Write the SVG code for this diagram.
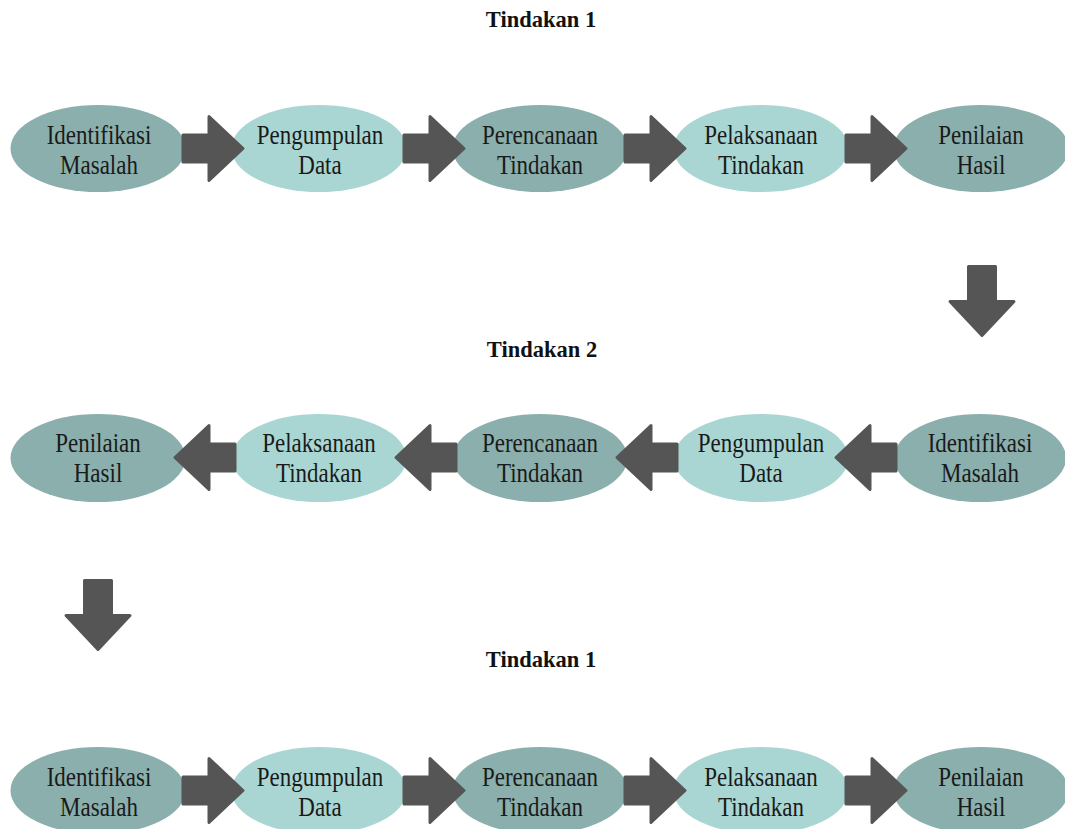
<svg xmlns="http://www.w3.org/2000/svg" width="1065" height="829" viewBox="0 0 1065 829">
<style>
.dk{fill:#8aafac}
.lt{fill:#a9d6d3}
.t{font-family:"Liberation Serif","Times New Roman",serif;font-size:23px;fill:#1a1a1a;text-anchor:middle}
.h{font-family:"Liberation Serif","Times New Roman",serif;font-size:22.5px;font-weight:bold;fill:#111;text-anchor:middle}
.ar{fill:#555555;stroke:#555555;stroke-width:3;stroke-linejoin:round}
</style>
<rect width="1065" height="829" fill="#ffffff"/>
<text class="h" x="541" y="27">Tindakan 1</text>
<text class="h" x="542" y="357">Tindakan 2</text>
<text class="h" x="541" y="667">Tindakan 1</text>

<!-- Row 1 -->
<g id="r1n1"><ellipse class="dk" cx="98" cy="148.5" rx="87.5" ry="43.5"/><text class="t" transform="translate(99,144) scale(1,1.18)">Identifikasi</text><text class="t" transform="translate(99,174) scale(1,1.18)">Masalah</text></g>
<g id="r1n2"><ellipse class="lt" cx="319" cy="148.5" rx="87.5" ry="43.5"/><text class="t" transform="translate(320,144) scale(1,1.18)">Pengumpulan</text><text class="t" transform="translate(320,174) scale(1,1.18)">Data</text></g>
<g id="r1n3"><ellipse class="dk" cx="540" cy="148.5" rx="87.5" ry="43.5"/><text class="t" transform="translate(540,144) scale(1,1.18)">Perencanaan</text><text class="t" transform="translate(540,174) scale(1,1.18)">Tindakan</text></g>
<g id="r1n4"><ellipse class="lt" cx="761" cy="148.5" rx="87.5" ry="43.5"/><text class="t" transform="translate(761,144) scale(1,1.18)">Pelaksanaan</text><text class="t" transform="translate(761,174) scale(1,1.18)">Tindakan</text></g>
<g id="r1n5"><ellipse class="dk" cx="981" cy="148.5" rx="87.5" ry="43.5"/><text class="t" transform="translate(981,144) scale(1,1.18)">Penilaian</text><text class="t" transform="translate(981,174) scale(1,1.18)">Hasil</text></g>

<!-- Row 2 -->
<g id="r2n1"><ellipse class="dk" cx="98" cy="458" rx="87.5" ry="44"/><text class="t" transform="translate(98,452) scale(1,1.18)">Penilaian</text><text class="t" transform="translate(98,482) scale(1,1.18)">Hasil</text></g>
<g id="r2n2"><ellipse class="lt" cx="319" cy="458" rx="87.5" ry="44"/><text class="t" transform="translate(319,452) scale(1,1.18)">Pelaksanaan</text><text class="t" transform="translate(319,482) scale(1,1.18)">Tindakan</text></g>
<g id="r2n3"><ellipse class="dk" cx="540" cy="458" rx="87.5" ry="44"/><text class="t" transform="translate(540,452) scale(1,1.18)">Perencanaan</text><text class="t" transform="translate(540,482) scale(1,1.18)">Tindakan</text></g>
<g id="r2n4"><ellipse class="lt" cx="761" cy="458" rx="87.5" ry="44"/><text class="t" transform="translate(761,452) scale(1,1.18)">Pengumpulan</text><text class="t" transform="translate(761,482) scale(1,1.18)">Data</text></g>
<g id="r2n5"><ellipse class="dk" cx="980" cy="458" rx="86" ry="44"/><text class="t" transform="translate(980,452) scale(1,1.18)">Identifikasi</text><text class="t" transform="translate(980,482) scale(1,1.18)">Masalah</text></g>

<!-- Row 3 -->
<g id="r3n1"><ellipse class="dk" cx="98" cy="790.5" rx="87.5" ry="43.5"/><text class="t" transform="translate(99,786) scale(1,1.18)">Identifikasi</text><text class="t" transform="translate(99,816) scale(1,1.18)">Masalah</text></g>
<g id="r3n2"><ellipse class="lt" cx="319" cy="790.5" rx="87.5" ry="43.5"/><text class="t" transform="translate(320,786) scale(1,1.18)">Pengumpulan</text><text class="t" transform="translate(320,816) scale(1,1.18)">Data</text></g>
<g id="r3n3"><ellipse class="dk" cx="540" cy="790.5" rx="87.5" ry="43.5"/><text class="t" transform="translate(540,786) scale(1,1.18)">Perencanaan</text><text class="t" transform="translate(540,816) scale(1,1.18)">Tindakan</text></g>
<g id="r3n4"><ellipse class="lt" cx="761" cy="790.5" rx="87.5" ry="43.5"/><text class="t" transform="translate(761,786) scale(1,1.18)">Pelaksanaan</text><text class="t" transform="translate(761,816) scale(1,1.18)">Tindakan</text></g>
<g id="r3n5"><ellipse class="dk" cx="981" cy="790.5" rx="87.5" ry="43.5"/><text class="t" transform="translate(981,786) scale(1,1.18)">Penilaian</text><text class="t" transform="translate(981,816) scale(1,1.18)">Hasil</text></g>

<defs>
<path id="ra" d="M0,-13.5 L26,-13.5 L26,-32 L60,0 L26,32 L26,13.5 L0,13.5 Z"/>
<path id="la" d="M0,-13.5 L-26,-13.5 L-26,-32 L-60,0 L-26,32 L-26,13.5 L0,13.5 Z"/>
<path id="da" d="M-13.5,0 L-13.5,35 L-32,35 L0,69 L32,35 L13.5,35 L13.5,0 Z"/>
</defs>
<g id="connectors">
<use href="#ra" class="ar" x="183" y="148.5"/>
<use href="#ra" class="ar" x="404" y="148.5"/>
<use href="#ra" class="ar" x="625" y="148.5"/>
<use href="#ra" class="ar" x="846" y="148.5"/>
<use href="#da" class="ar" x="982" y="266.5"/>
<use href="#la" class="ar" x="896" y="457.5"/>
<use href="#la" class="ar" x="677" y="457.5"/>
<use href="#la" class="ar" x="456" y="457.5"/>
<use href="#la" class="ar" x="235" y="457.5"/>
<use href="#da" class="ar" x="98" y="580.5"/>
<use href="#ra" class="ar" x="183" y="790.5"/>
<use href="#ra" class="ar" x="404" y="790.5"/>
<use href="#ra" class="ar" x="625" y="790.5"/>
<use href="#ra" class="ar" x="846" y="790.5"/>
</g>
</svg>
